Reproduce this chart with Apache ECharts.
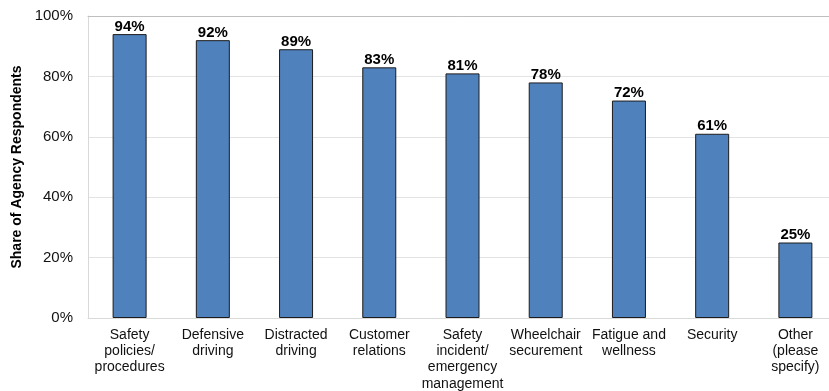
<!DOCTYPE html>
<html>
<head>
<meta charset="utf-8">
<script src="https://cdn.jsdelivr.net/npm/echarts@6/dist/echarts.min.js"></script>
<style>
  html, body { margin: 0; padding: 0; background: #fff; }
  #chart { width: 829px; height: 391px; }
</style>
</head>
<body>
<div id="chart"></div>
<script>
// Training topics covered by agencies and share of respondents (%)
const categories = [
  'Safety\npolicies/\nprocedures',
  'Defensive\ndriving',
  'Distracted\ndriving',
  'Customer\nrelations',
  'Safety\nincident/\nemergency\nmanagement',
  'Wheelchair\nsecurement',
  'Fatigue and\nwellness',
  'Security',
  'Other\n(please\nspecify)'
];
const shares = [94, 92, 89, 83, 81, 78, 72, 61, 25];
const yTicks = [0, 20, 40, 60, 80, 100];

const font = 'Arial, "Liberation Sans", sans-serif';
const chart = echarts.init(document.getElementById('chart'));

chart.setOption({
  animation: false,
  grid: { left: 88, right: -8, top: 16, bottom: 73, outerBoundsMode: 'none', containLabel: false },
  xAxis: [{
    type: 'category',
    data: categories,
    axisTick: { show: false },
    axisLine: { lineStyle: { color: '#d9d9d9', width: 1 } },
    axisLabel: {
      interval: 0,
      margin: 9,
      color: '#111',
      fontFamily: font,
      fontSize: 14,
      lineHeight: 16.2
    }
  }, {
    type: 'category',
    position: 'top',
    data: categories,
    axisTick: { show: false },
    axisLabel: { show: false },
    axisLine: { lineStyle: { color: '#bfbfbf', width: 1 } }
  }],
  yAxis: {
    type: 'value',
    min: yTicks[0],
    max: yTicks[yTicks.length - 1],
    interval: 20,
    name: 'Share of Agency Respondents',
    nameLocation: 'middle',
    nameGap: 64,
    nameTextStyle: { fontFamily: font, fontSize: 14, fontWeight: 'bold', color: '#000' },
    axisLine: { show: true, lineStyle: { color: '#d9d9d9' } },
    axisTick: { show: false },
    axisLabel: {
      formatter: v => v + '%',
      margin: 15,
      color: '#111',
      fontFamily: font,
      fontSize: 15
    },
    splitLine: { lineStyle: { color: '#e3e3e3', width: 1 } }
  },
  series: [{
    type: 'bar',
    data: shares,
    barWidth: 34,
    itemStyle: { color: '#4f81bd', borderColor: '#1c1c1c', borderWidth: 1 },
    label: {
      show: true,
      position: 'top',
      distance: 0,
      formatter: p => p.value + '%',
      color: '#000',
      fontFamily: font,
      fontSize: 15,
      fontWeight: 'bold'
    }
  }]
});
</script>
</body>
</html>
